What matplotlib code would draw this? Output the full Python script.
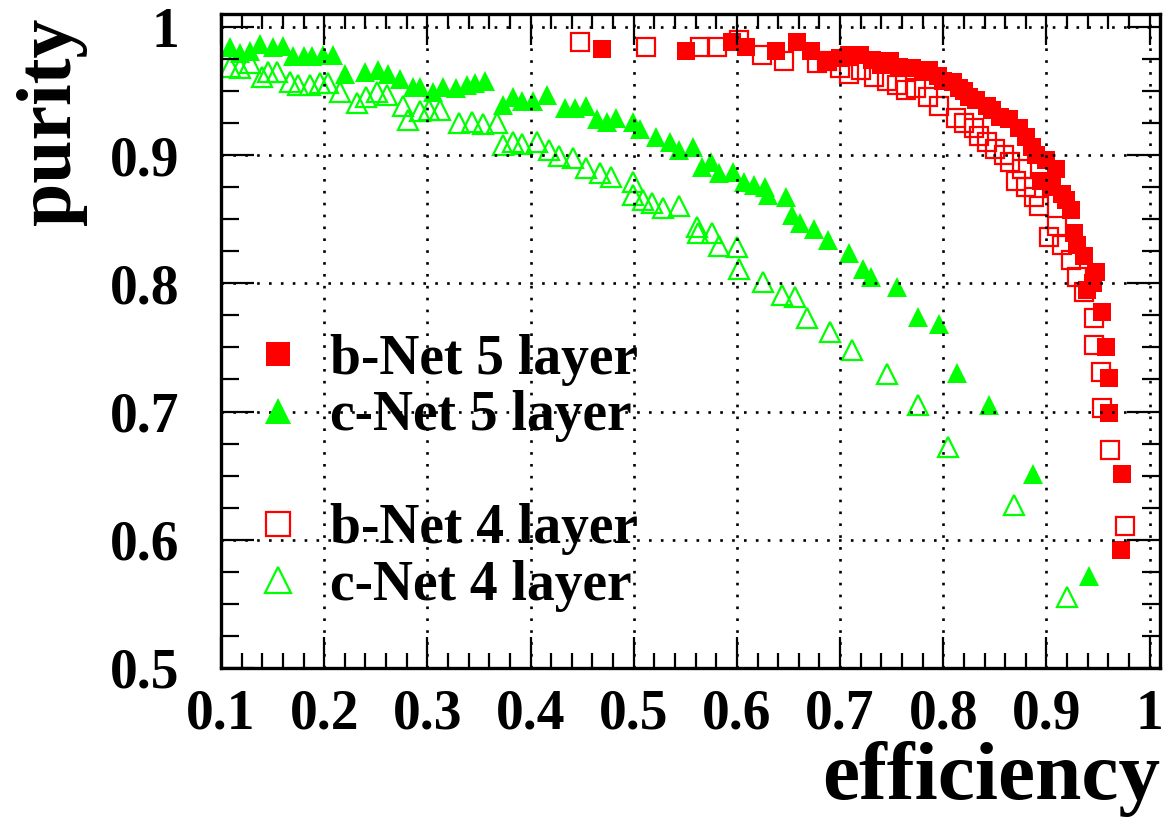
import matplotlib
matplotlib.use("Agg")
import matplotlib.pyplot as plt
from matplotlib.lines import Line2D
from matplotlib.ticker import MultipleLocator, FuncFormatter

# b-Net 5 layer (filled red squares)
b5_eff = [0.469, 0.551, 0.595, 0.609, 0.638, 0.658, 0.672, 0.687, 0.700, 0.709,
          0.719, 0.731, 0.740, 0.748, 0.757, 0.770, 0.780, 0.786, 0.795, 0.800,
          0.809, 0.815, 0.820, 0.825, 0.832, 0.842, 0.847, 0.855, 0.864, 0.873,
          0.880, 0.886, 0.890, 0.895, 0.900, 0.905, 0.909, 0.915, 0.919, 0.924,
          0.927, 0.930, 0.936, 0.939, 0.945, 0.948, 0.954, 0.958, 0.961, 0.961,
          0.973, 0.972]
b5_pur = [0.983, 0.981, 0.988, 0.984, 0.981, 0.988, 0.981, 0.974, 0.976, 0.978,
          0.978, 0.974, 0.970, 0.973, 0.969, 0.968, 0.965, 0.966, 0.962, 0.958,
          0.957, 0.952, 0.950, 0.945, 0.943, 0.938, 0.935, 0.930, 0.928, 0.921,
          0.914, 0.906, 0.900, 0.880, 0.896, 0.875, 0.889, 0.870, 0.865, 0.857,
          0.839, 0.830, 0.821, 0.795, 0.800, 0.809, 0.778, 0.750, 0.726, 0.699,
          0.651, 0.592]

# c-Net 5 layer (filled green triangles)
c5_eff = [0.109, 0.118, 0.128, 0.138, 0.150, 0.160, 0.170, 0.180, 0.188, 0.199,
          0.209, 0.220, 0.240, 0.252, 0.262, 0.273, 0.286, 0.293, 0.305, 0.315,
          0.328, 0.338, 0.346, 0.356, 0.373, 0.383, 0.392, 0.402, 0.416, 0.433,
          0.443, 0.454, 0.464, 0.474, 0.483, 0.499, 0.506, 0.522, 0.535, 0.544,
          0.557, 0.566, 0.575, 0.583, 0.596, 0.607, 0.617, 0.627, 0.630, 0.648,
          0.653, 0.661, 0.675, 0.688, 0.709, 0.722, 0.730, 0.755, 0.775, 0.796,
          0.813, 0.844, 0.887, 0.941]
c5_pur = [0.984, 0.980, 0.981, 0.987, 0.984, 0.985, 0.977, 0.977, 0.977, 0.978,
          0.978, 0.963, 0.965, 0.966, 0.963, 0.959, 0.953, 0.953, 0.949, 0.953,
          0.952, 0.955, 0.956, 0.958, 0.939, 0.945, 0.942, 0.942, 0.947, 0.937,
          0.937, 0.938, 0.928, 0.926, 0.929, 0.926, 0.920, 0.914, 0.910, 0.904,
          0.906, 0.891, 0.895, 0.886, 0.887, 0.879, 0.877, 0.875, 0.869, 0.867,
          0.853, 0.847, 0.842, 0.834, 0.824, 0.811, 0.805, 0.797, 0.774, 0.768,
          0.730, 0.705, 0.651, 0.572]

# b-Net 4 layer (open red squares)
b4_eff = [0.448, 0.512, 0.564, 0.581, 0.602, 0.624, 0.646, 0.678, 0.687, 0.700,
          0.709, 0.720, 0.733, 0.745, 0.755, 0.764, 0.774, 0.785, 0.796, 0.812,
          0.820, 0.830, 0.835, 0.842, 0.850, 0.859, 0.865, 0.870, 0.876, 0.880,
          0.888, 0.893, 0.902, 0.910, 0.915, 0.924, 0.930, 0.936, 0.946, 0.946,
          0.953, 0.954, 0.962, 0.976]
b4_pur = [0.988, 0.984, 0.984, 0.984, 0.990, 0.978, 0.973, 0.972, 0.973, 0.968,
          0.963, 0.966, 0.961, 0.958, 0.955, 0.951, 0.952, 0.945, 0.938, 0.929,
          0.925, 0.921, 0.915, 0.910, 0.905, 0.900, 0.895, 0.880, 0.889, 0.875,
          0.867, 0.860, 0.836, 0.845, 0.830, 0.818, 0.805, 0.793, 0.773, 0.752,
          0.731, 0.703, 0.670, 0.611]

# c-Net 4 layer (open green triangles)
c4_eff = [0.109, 0.118, 0.128, 0.140, 0.146, 0.154, 0.167, 0.175, 0.186, 0.196,
          0.204, 0.215, 0.232, 0.241, 0.251, 0.261, 0.276, 0.281, 0.293, 0.302,
          0.312, 0.331, 0.343, 0.354, 0.367, 0.373, 0.383, 0.392, 0.406, 0.418,
          0.428, 0.441, 0.454, 0.467, 0.478, 0.499, 0.499, 0.509, 0.518, 0.528,
          0.544, 0.561, 0.562, 0.576, 0.583, 0.600, 0.602, 0.625, 0.644, 0.656,
          0.668, 0.690, 0.712, 0.745, 0.775, 0.805, 0.869, 0.920]
c4_pur = [0.969, 0.968, 0.972, 0.961, 0.965, 0.965, 0.957, 0.955, 0.955, 0.956,
          0.956, 0.949, 0.941, 0.945, 0.949, 0.947, 0.938, 0.927, 0.934, 0.935,
          0.935, 0.925, 0.926, 0.924, 0.925, 0.908, 0.910, 0.909, 0.910, 0.904,
          0.899, 0.898, 0.890, 0.886, 0.883, 0.879, 0.869, 0.865, 0.863, 0.859,
          0.860, 0.844, 0.839, 0.839, 0.829, 0.828, 0.811, 0.801, 0.791, 0.789,
          0.773, 0.762, 0.748, 0.729, 0.705, 0.672, 0.627, 0.555]

labels = ["b-Net 5 layer", "c-Net 5 layer", "b-Net 4 layer", "c-Net 4 layer"]
xticks = [0.1, 0.2, 0.3, 0.4, 0.5, 0.6, 0.7, 0.8, 0.9, 1.0]
yticks = [0.5, 0.6, 0.7, 0.8, 0.9, 1.0]

plt.rcParams["font.family"] = "Liberation Serif"
plt.rcParams["font.weight"] = "bold"

RED = "#ff0000"
GREEN = "#00ff00"

fig = plt.figure(figsize=(11.65, 8.26), dpi=100)
ax = fig.add_axes([0.1897, 0.1913, 0.8060, 0.7917])

ax.plot(b5_eff, b5_pur, ls="none", marker="s", ms=13, color=RED, mec=RED, mew=0)
ax.plot(c5_eff, c5_pur, ls="none", marker="^", ms=15, color=GREEN, mec=GREEN, mew=0)
ax.plot(b4_eff, b4_pur, ls="none", marker="s", ms=13, mfc="none", mec=RED, mew=1.6)
ax.plot(c4_eff, c4_pur, ls="none", marker="^", ms=14, mfc="none", mec=GREEN, mew=1.6)

ax.set_xlim(0.1, 1.01)
ax.set_ylim(0.5, 1.01)
ax.set_xticks(xticks)
ax.set_yticks(yticks)
ax.xaxis.set_minor_locator(MultipleLocator(0.02))
ax.yaxis.set_minor_locator(MultipleLocator(0.025))
fmt = FuncFormatter(lambda v, p: "%g" % round(v, 2))
ax.xaxis.set_major_formatter(fmt)
ax.yaxis.set_major_formatter(fmt)

ax.tick_params(which="both", direction="in", top=True, right=True,
               width=1.6, labelsize=40, colors="black")
ax.tick_params(axis="x", which="major", length=22, pad=15)
ax.tick_params(axis="x", which="minor", length=11)
ax.tick_params(axis="y", which="major", length=24, pad=30)
ax.tick_params(axis="y", which="minor", length=13)
for sp in ax.spines.values():
    sp.set_linewidth(2.4)

ax.grid(True, which="major", color="black", linestyle=(0, (1, 3.5)), linewidth=1.9)
ax.set_axisbelow(False)

ax.set_xlabel("efficiency", fontsize=60, fontweight="bold", loc="right")
ax.xaxis.set_label_coords(1.0, -0.112)
ax.set_ylabel("purity", fontsize=56, fontweight="bold", loc="top")
ax.yaxis.set_label_coords(-0.143, 0.995)

handles = [
    Line2D([], [], ls="none", marker="s", ms=17, color=RED, mew=0),
    Line2D([], [], ls="none", marker="^", ms=19, color=GREEN, mew=0),
    Line2D([], [], ls="none"),
    Line2D([], [], ls="none", marker="s", ms=17, mfc="none", mec=RED, mew=1.6),
    Line2D([], [], ls="none", marker="^", ms=19, mfc="none", mec=GREEN, mew=1.6),
]
leg_labels = [labels[0], labels[1], "", labels[2], labels[3]]
ax.legend(handles, leg_labels, loc="upper left", bbox_to_anchor=(0.031, 0.511),
          frameon=False, prop={"family": "Liberation Serif", "weight": "bold", "size": 40},
          handlelength=1.0, handletextpad=0.44, labelspacing=0.08,
          borderpad=0, borderaxespad=0)

fig.savefig("out.png", dpi=100)
